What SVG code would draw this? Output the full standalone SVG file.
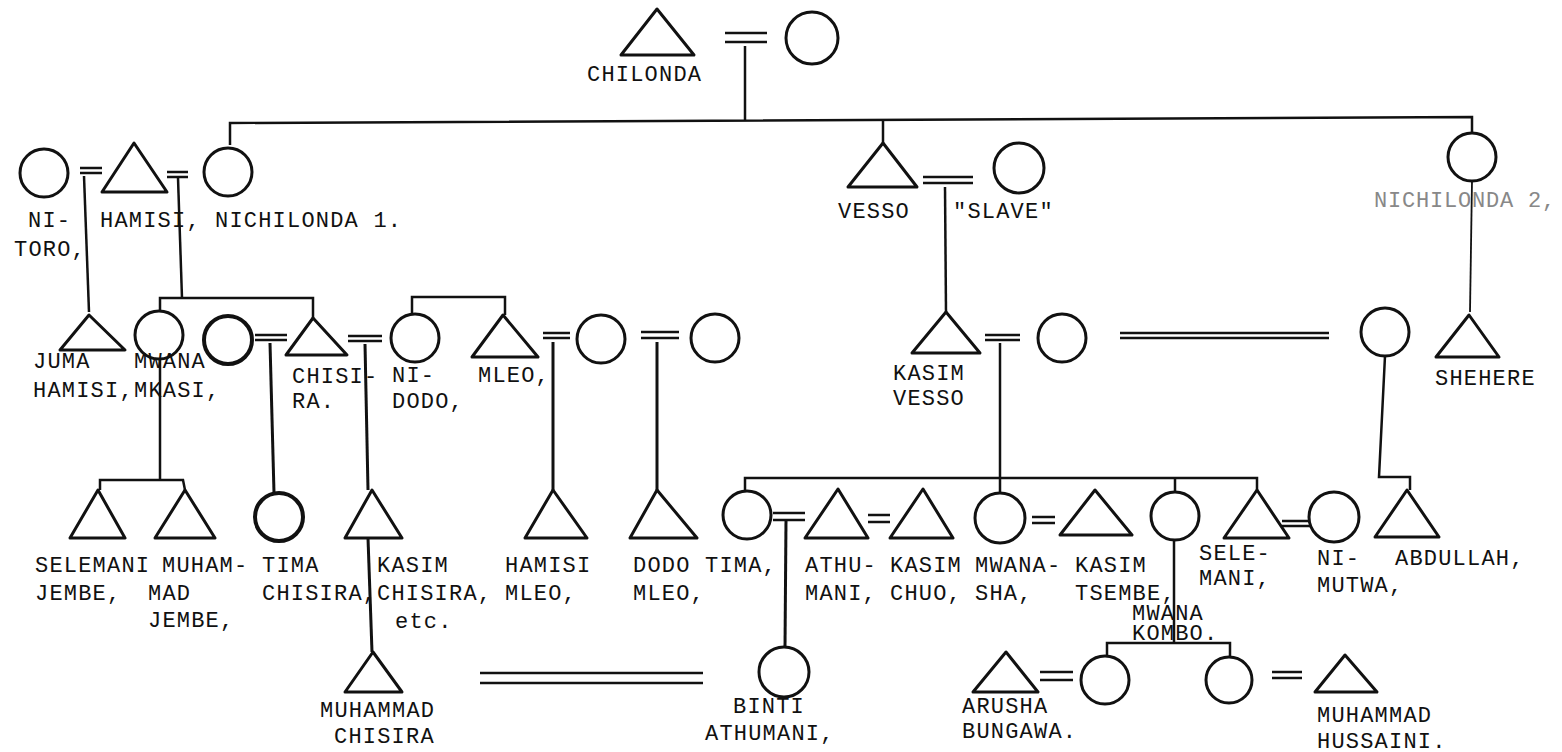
<svg xmlns="http://www.w3.org/2000/svg" width="1562" height="752" viewBox="0 0 1562 752">
<style>
.bg{fill:#fff}
.s{fill:none;stroke:#111;stroke-width:3;stroke-linejoin:round}
.l{fill:none;stroke:#111;stroke-width:2.5}
.m{fill:none;stroke:#111;stroke-width:2.5}
.t{font-family:"Liberation Mono","DejaVu Sans Mono",monospace;font-size:22px;letter-spacing:1.2px;fill:#111}
.f{fill:#888;letter-spacing:0.8px}
</style>
<rect class="bg" x="0" y="0" width="1562" height="752"/>
<g id="connectors">
<path class="m" d="M725,33H767M725,42H767"/>
<path class="l" d="M745,46V121"/>
<path class="l" d="M230,145V123L1472,117V133"/>
<path class="l" d="M883,120V143"/>
<path class="m" d="M80,168H102M80,173H102"/>
<path class="l" d="M84,176L89,312"/>
<path class="m" d="M167,172H188M167,177H188"/>
<path class="l" d="M178,178L182,298"/>
<path class="l" d="M160,311V298H313V318"/>
<path class="m" d="M255,335H287M255,340H287"/>
<path class="l" d="M270,343L274,493" style="stroke-width:3"/>
<path class="m" d="M348,336H382M348,341H382"/>
<path class="l" d="M365,344L368,490" style="stroke-width:3"/>
<path class="l" d="M412,314V297H505V315"/>
<path class="m" d="M543,333H570M543,338H570"/>
<path class="l" d="M553,342V490" style="stroke-width:3"/>
<path class="m" d="M641,332H679M641,338H679"/>
<path class="l" d="M657,342V490" style="stroke-width:3"/>
<path class="m" d="M923,177H973M923,183H973"/>
<path class="l" d="M945,187L946,312"/>
<path class="m" d="M985,335H1020M985,340H1020"/>
<path class="l" d="M1000,343V478"/>
<path class="m" d="M1120,333H1329M1120,338H1329"/>
<path class="l" d="M1472,181L1470,312" style="stroke-width:1.8"/>
<path class="l" d="M1385,356L1379,477H1410V490"/>
<path class="l" d="M745,491V478H1257V490M1000,478V493M1175,478V492"/>
<path class="l" d="M160,359V480M100,490V480H183L185,490"/>
<path class="l" d="M368,538L372,652" style="stroke-width:3"/>
<path class="m" d="M773,513H805M773,520H805"/>
<path class="l" d="M786,520L785,647" style="stroke-width:3"/>
<path class="m" d="M868,515H890M868,522H890"/>
<path class="m" d="M1032,517H1055M1032,523H1055"/>
<path class="m" d="M1282,521H1310M1282,526H1310"/>
<path class="m" d="M480,673H703M480,683H703"/>
<path class="l" d="M1174,540V643M1107,656V643H1230V657"/>
<path class="m" d="M1040,672H1073M1040,680H1073"/>
<path class="m" d="M1272,672H1302M1272,678H1302"/>
</g>
<g id="chilonda"><polygon class="s" points="657,9 694,55 621,55"/><text class="t" x="587" y="81">CHILONDA</text></g>
<g id="chilonda-wife"><circle class="s" cx="812" cy="38" r="26"/></g>
<g id="nitoro"><circle class="s" cx="44" cy="173" r="24"/><text class="t" x="28" y="227">NI-</text><text class="t" x="14" y="256">TORO,</text></g>
<g id="hamisi"><polygon class="s" points="134,143 167,192 102,192"/><text class="t" x="100" y="227">HAMISI,</text></g>
<g id="nichilonda1"><circle class="s" cx="228" cy="172" r="24"/><text class="t" x="215" y="227">NICHILONDA 1.</text></g>
<g id="vesso"><polygon class="s" points="883,143 917,187 848,187"/><text class="t" x="838" y="218">VESSO</text></g>
<g id="slave"><circle class="s" cx="1019" cy="168" r="25"/><text class="t" x="953" y="218">"SLAVE"</text></g>
<g id="nichilonda2"><circle class="s" cx="1472" cy="157" r="24"/><text class="t f" x="1374" y="207">NICHILONDA 2,</text></g>
<g id="juma-hamisi"><polygon class="s" points="89,315 125,350 60,350"/><text class="t" x="33" y="368">JUMA</text><text class="t" x="33" y="397">HAMISI,</text></g>
<g id="mwana-mkasi"><circle class="s" cx="159" cy="335" r="24"/><text class="t" x="134" y="368">MWANA</text><text class="t" x="134" y="397">MKASI,</text></g>
<g id="chisira-wife"><circle class="s" cx="228" cy="340" r="24" style="stroke-width:4"/></g>
<g id="chisira"><polygon class="s" points="313,318 347,355 286,355"/><text class="t" x="292" y="383">CHISI-</text><text class="t" x="292" y="408">RA.</text></g>
<g id="nidodo"><circle class="s" cx="415" cy="338" r="24"/><text class="t" x="392" y="382">NI-</text><text class="t" x="392" y="408">DODO,</text></g>
<g id="mleo"><polygon class="s" points="503,315 538,357 472,357"/><text class="t" x="478" y="382">MLEO,</text></g>
<g id="mleo-wife-1"><circle class="s" cx="601" cy="339" r="24"/></g>
<g id="mleo-wife-2"><circle class="s" cx="715" cy="338" r="24"/></g>
<g id="kasim-vesso"><polygon class="s" points="946,312 980,353 912,353"/><text class="t" x="893" y="380">KASIM</text><text class="t" x="893" y="405">VESSO</text></g>
<g id="kasim-vesso-wife"><circle class="s" cx="1062" cy="338" r="24"/></g>
<g id="abdullah-mother"><circle class="s" cx="1385" cy="332" r="24"/></g>
<g id="shehere"><polygon class="s" points="1469,315 1499,357 1436,357"/><text class="t" x="1435" y="385">SHEHERE</text></g>
<g id="selemani-jembe"><polygon class="s" points="98,490 125,538 70,538"/><text class="t" x="35" y="572">SELEMANI</text><text class="t" x="35" y="600">JEMBE,</text></g>
<g id="muhammad-jembe"><polygon class="s" points="185,490 215,538 155,538"/><text class="t" x="162" y="572">MUHAM-</text><text class="t" x="148" y="600">MAD</text><text class="t" x="148" y="627">JEMBE,</text></g>
<g id="tima-chisira"><circle class="s" cx="279" cy="517" r="24" style="stroke-width:4"/><text class="t" x="262" y="572">TIMA</text><text class="t" x="262" y="600">CHISIRA,</text></g>
<g id="kasim-chisira"><polygon class="s" points="372,490 402,538 345,538"/><text class="t" x="377" y="572">KASIM</text><text class="t" x="377" y="600">CHISIRA,</text><text class="t" x="395" y="628">etc.</text></g>
<g id="hamisi-mleo"><polygon class="s" points="553,490 587,538 525,538"/><text class="t" x="505" y="572">HAMISI</text><text class="t" x="505" y="600">MLEO,</text></g>
<g id="dodo-mleo"><polygon class="s" points="657,490 697,538 630,538"/><text class="t" x="633" y="572">DODO</text><text class="t" x="633" y="600">MLEO,</text></g>
<g id="tima"><circle class="s" cx="747" cy="515" r="24"/><text class="t" x="705" y="572">TIMA,</text></g>
<g id="athumani"><polygon class="s" points="838,489 868,538 805,538"/><text class="t" x="805" y="572">ATHU-</text><text class="t" x="805" y="600">MANI,</text></g>
<g id="kasim-chuo"><polygon class="s" points="923,489 953,538 890,538"/><text class="t" x="890" y="572">KASIM</text><text class="t" x="890" y="600">CHUO,</text></g>
<g id="mwanasha"><circle class="s" cx="1000" cy="518" r="25"/><text class="t" x="975" y="572">MWANA-</text><text class="t" x="975" y="600">SHA,</text></g>
<g id="kasim-tsembe"><polygon class="s" points="1095,490 1132,535 1060,535"/><text class="t" x="1075" y="572">KASIM</text><text class="t" x="1075" y="600">TSEMBE,</text></g>
<g id="mwana-kombo"><circle class="s" cx="1175" cy="516" r="24"/><text class="t" x="1132" y="620">MWANA</text><text class="t" x="1132" y="640">KOMBO.</text></g>
<g id="selemani"><polygon class="s" points="1257,490 1289,538 1224,538"/><text class="t" x="1199" y="560">SELE-</text><text class="t" x="1199" y="585">MANI,</text></g>
<g id="nimutwa"><circle class="s" cx="1334" cy="517" r="25"/><text class="t" x="1317" y="565">NI-</text><text class="t" x="1317" y="592">MUTWA,</text></g>
<g id="abdullah"><polygon class="s" points="1407,490 1439,537 1375,537"/><text class="t" x="1395" y="565">ABDULLAH,</text></g>
<g id="muhammad-chisira"><polygon class="s" points="373,652 402,692 345,692"/><text class="t" x="320" y="717">MUHAMMAD</text><text class="t" x="334" y="743">CHISIRA</text></g>
<g id="binti-athumani"><circle class="s" cx="784" cy="672" r="25"/><text class="t" x="733" y="713">BINTI</text><text class="t" x="705" y="740">ATHUMANI,</text></g>
<g id="arusha-bungawa"><polygon class="s" points="1006,652 1038,692 973,692"/><text class="t" x="962" y="713">ARUSHA</text><text class="t" x="962" y="738">BUNGAWA.</text></g>
<g id="kombo-daughter-1"><circle class="s" cx="1105" cy="680" r="24"/></g>
<g id="kombo-daughter-2"><circle class="s" cx="1229" cy="680" r="23"/></g>
<g id="muhammad-hussaini"><polygon class="s" points="1345,655 1377,692 1315,692"/><text class="t" x="1317" y="722">MUHAMMAD</text><text class="t" x="1317" y="748">HUSSAINI.</text></g>
</svg>
